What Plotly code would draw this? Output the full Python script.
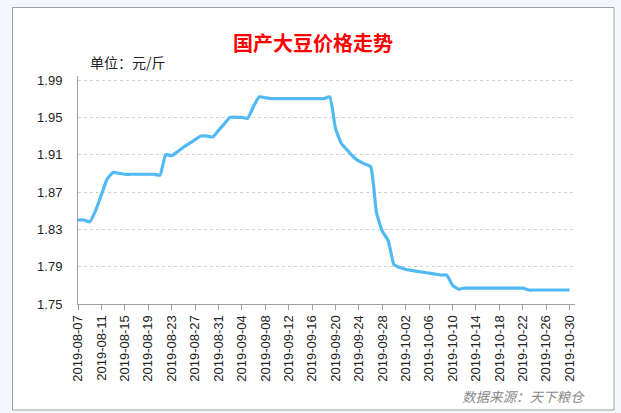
import plotly.graph_objects as go
import pandas as pd

# ---- data ----
start_date = "2019-08-07"
prices = [
    1.840, 1.840, 1.838, 1.850, 1.867, 1.884, 1.891, 1.890, 1.889, 1.889,   # 08-07 .. 08-16
    1.889, 1.889, 1.889, 1.889, 1.888, 1.910, 1.909, 1.913, 1.918, 1.922,   # 08-17 .. 08-26
    1.926, 1.930, 1.930, 1.929, 1.936, 1.943, 1.950, 1.950, 1.950, 1.949,   # 08-27 .. 09-05
    1.962, 1.972, 1.971, 1.970, 1.970, 1.970, 1.970, 1.970, 1.970, 1.970,   # 09-06 .. 09-15
    1.970, 1.970, 1.970, 1.972, 1.938, 1.922, 1.915, 1.908, 1.903, 1.900,   # 09-16 .. 09-25
    1.897, 1.848, 1.828, 1.818, 1.792, 1.789, 1.787, 1.786, 1.785, 1.784,   # 09-26 .. 10-05
    1.783, 1.782, 1.781, 1.781, 1.770, 1.766, 1.767, 1.767, 1.767, 1.767,   # 10-06 .. 10-15
    1.767, 1.767, 1.767, 1.767, 1.767, 1.767, 1.767, 1.765, 1.765, 1.765,   # 10-16 .. 10-25
    1.765, 1.765, 1.765, 1.765, 1.765,                                      # 10-26 .. 10-30
]
dates = pd.date_range(start_date, periods=len(prices), freq="D")
y_ticks = [1.75, 1.79, 1.83, 1.87, 1.91, 1.95, 1.99]

title_text = "国产大豆价格走势"
unit_text = "单位：元/斤"
source_text = "数据来源：天下粮仓"

CJK = "Noto Sans CJK SC"
LAT = "Arial, Liberation Sans, sans-serif"

fig = go.Figure()
fig.add_trace(go.Scatter(
    x=dates, y=prices, mode="lines",
    line=dict(color="#52BAF3", width=3.2, shape="spline", smoothing=0.5),
    hoverinfo="skip", showlegend=False,
))

L, R, T, B = 78, 46, 76, 109
W, H = 621, 413
pw, ph = W - L - R, H - T - B

def px(x):
    return (x - L) / pw

def py(y):
    return (H - B - y) / ph

fig.update_layout(
    width=W, height=H,
    margin=dict(l=L, r=R, t=T, b=B, pad=0),
    paper_bgcolor="#F3F6FB",
    plot_bgcolor="rgba(0,0,0,0)",
    shapes=[dict(
        type="rect", xref="paper", yref="paper", layer="below",
        x0=px(12.5), x1=px(614), y0=py(410), y1=py(7.5),
        fillcolor="white", line=dict(color="#A0A0A0", width=1),
    )],
    annotations=[
        dict(text=title_text, xref="paper", yref="paper",
             x=px(312.5), y=py(42.5), xanchor="center", yanchor="middle",
             showarrow=False,
             font=dict(family=CJK, size=20, color="#FF0000", weight="bold")),
        dict(text=unit_text, xref="paper", yref="paper",
             x=px(88), y=py(62), xanchor="left", yanchor="middle",
             showarrow=False, font=dict(family=CJK, size=14, color="#222222")),
        dict(text="<i>" + source_text + "</i>", xref="paper", yref="paper",
             x=px(587), y=py(396), xanchor="right", yanchor="middle",
             showarrow=False, font=dict(family=CJK, size=13.5, color="#8A8A8A")),
    ],
    xaxis=dict(
        type="date",
        range=["2019-08-07", "2019-10-30 22:00"],
        tickmode="linear", tick0=start_date, dtick=4 * 86400000,
        tickformat="%Y-%m-%d", tickangle=-90,
        ticks="outside", ticklen=5, tickcolor="#A0A0A0",
        showline=True, linecolor="#A0A0A0", linewidth=1,
        showgrid=False, zeroline=False,
        tickfont=dict(family=LAT, size=13, color="#222222"),
    ),
    yaxis=dict(
        range=[1.75, 1.9943],
        tickmode="array", tickvals=y_ticks,
        ticktext=[f"{v:.2f}" for v in y_ticks],
        ticks="", ticklabelstandoff=12,
        showline=True, linecolor="#A0A0A0", linewidth=1,
        showgrid=True, gridcolor="#D0D0D0", griddash="dot", gridwidth=1,
        zeroline=False,
        tickfont=dict(family=LAT, size=13, color="#222222"),
    ),
)

fig.write_html(
    "out.html",
    config={"displayModeBar": False},
    post_script="document.body.style.margin='0';document.body.style.background='#F3F6FB';",
)
